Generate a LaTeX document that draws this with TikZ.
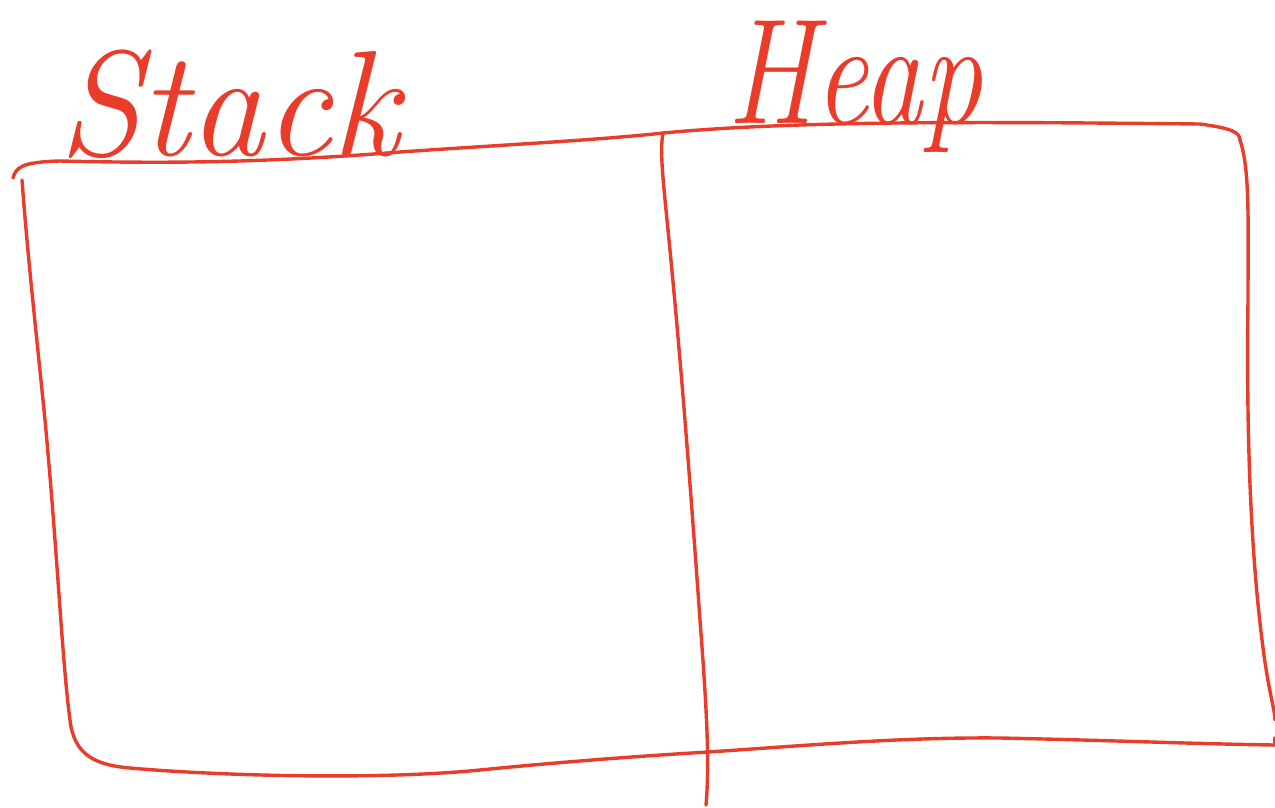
\documentclass[tikz,border=0pt]{standalone}
\usetikzlibrary{calc}
\definecolor{pen}{RGB}{233,60,42}
\tikzset{
  ink/.style={draw=pen, line width=3.4pt, line cap=round, line join=round},
  hand/.style={text=pen, inner sep=0pt, anchor=base west, font=\fontsize{150}{150}\selectfont\itshape}
}
\begin{document}
\begin{tikzpicture}[x=1pt,y=-1pt]
\useasboundingbox (0,0) rectangle (1275,807);
% outer frame
\coordinate (tl) at (13,178);
\coordinate (tm) at (663,133);
\coordinate (tr) at (1240,140);
\coordinate (br) at (1275,745);
\coordinate (bm) at (708,752);
\coordinate (bl) at (75,750);
\draw[ink] (tl) .. controls (16,168) and (20,162) .. (60,161)
  .. controls (150,163) and (250,164) .. (400,152)
  .. controls (500,145) and (600,140) .. (tm)
  .. controls (800,120) and (1000,122) .. (1200,124)
  .. controls (1230,128) and (1240,132) .. (tr)
  .. controls (1250,170) and (1248,220) .. (1248,300)
  .. controls (1246,450) and (1252,560) .. (1262,640)
  .. controls (1268,690) and (1275,710) .. (1275,720);
\draw[ink] (22,180) .. controls (28,260) and (36,330) .. (45,420)
  .. controls (58,560) and (62,660) .. (70,720)
  .. controls (74,755) and (95,765) .. (130,768)
  .. controls (220,776) and (380,780) .. (480,770)
  .. controls (560,762) and (640,756) .. (bm)
  .. controls (800,746) and (900,737) .. (1000,738)
  .. controls (1100,740) and (1200,744) .. (br);
\draw[ink] (1275,745) -- (1275,738);
% divider
\draw[ink] (tm) .. controls (660,150) and (662,170) .. (668,230)
  .. controls (680,350) and (690,480) .. (700,620)
  .. controls (706,700) and (710,760) .. (706,805);
% labels
\node[hand] (stack) at (58,155) {Stack};
\node[hand, transform shape, xscale=0.8] (heap) at (727,123) {Heap};
\end{tikzpicture}
\end{document}
